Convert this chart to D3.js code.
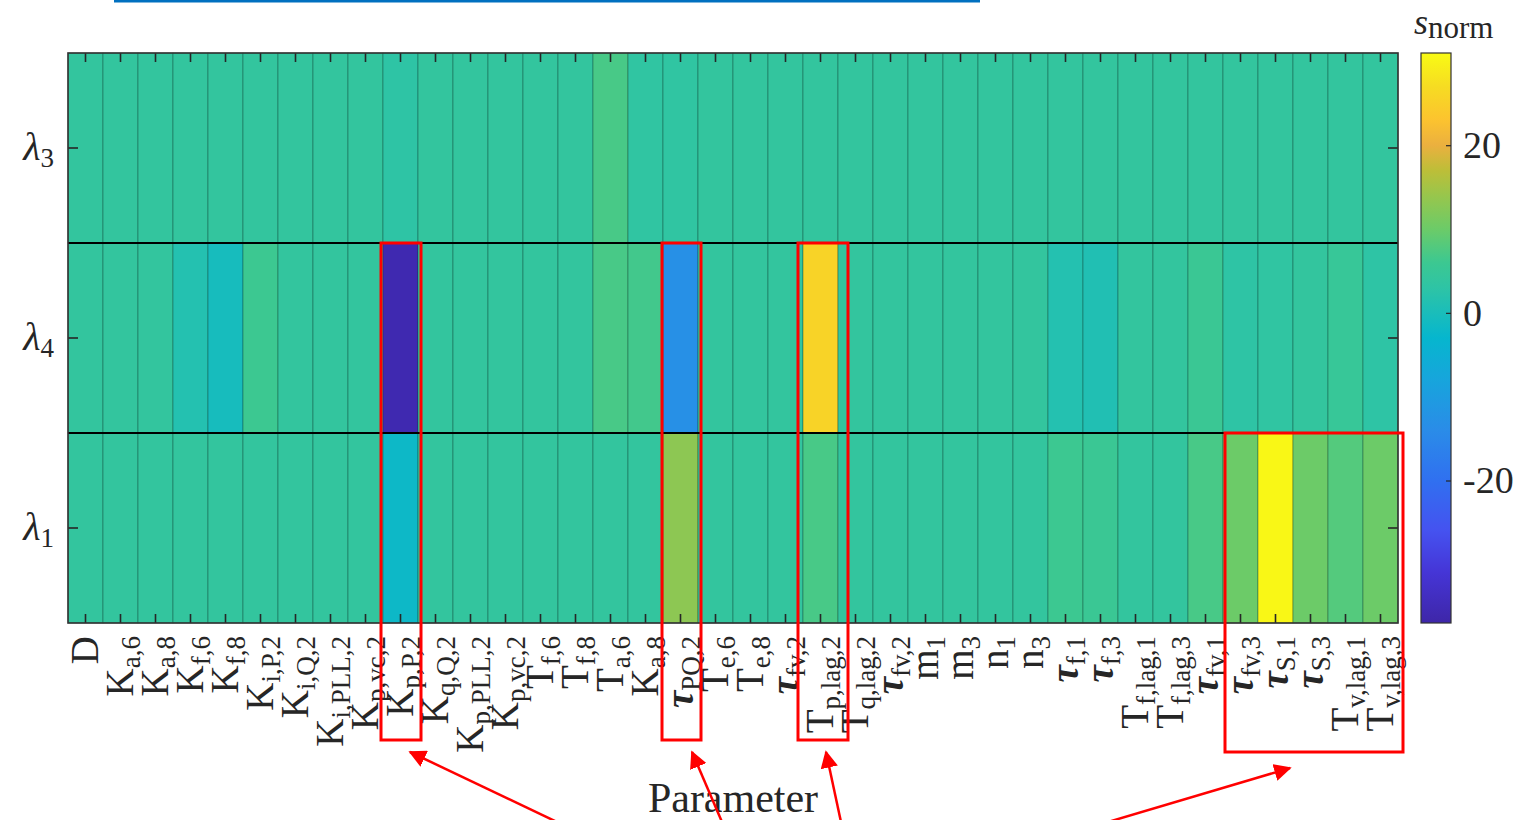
<!DOCTYPE html>
<html>
<head>
  <meta charset="utf-8">
  <title>Sensitivity heatmap</title>
  <script src="https://d3js.org/d3.v7.min.js"></script>
</head>
<body style="margin:0px; overflow:hidden; background:#fff;">
  <svg id="chart" width="1523" height="820"></svg>

  <script>
    // Parameters (main symbol + subscript)
    const paramMain = ["D","K","K","K","K","K","K","K","K","K","K","K","K","T","T","T","K","τ","T","T",
                       "τ","T","T","τ","m","m","n","n","τ","τ","T","T","τ","τ","τ","τ","T","T"];
    const paramSub  = ["","a,6","a,8","f,6","f,8","i,P,2","i,Q,2","i,PLL,2","p,vc,2","p,P,2","q,Q,2","p,PLL,2","p,vc,2",
                       "f,6","f,8","a,6","a,8","PQ,2","e,6","e,8","fv,2","p,lag,2","q,lag,2","fv,2","1","3","1","3",
                       "f,1","f,3","f,lag,1","f,lag,3","fv,1","fv,3","S,1","S,3","v,lag,1","v,lag,3"];

    // Eigenvalues (rows, top to bottom)
    const rowSub = ["3", "4", "1"];

    // Normalized sensitivity per eigenvalue
    const lambda3 = [4,4,4,4,4,4,4,4,4,3,4,4,4,4,4,7,3.5,3.5,4,4,4,4,4,4,4,4,4,4,4,4,4,4,4,4,4,4,4,4];
    const lambda4 = [4,4,4,1.5,-0.5,6,4,4,4,-36,4,4,4,4,4,7,6.5,-13,4,4,4,25.5,4,4,4,4,4,4,1.5,1,4,4,5.5,3,3.5,4,5,3];
    const lambda1 = [4,4,4,4,4,4,4,4,4,-2,4,4,4,4,4,4,4,13,4,4,4,7,4,4,4,4,4,4,6,5.5,4,4,7,10,30.5,10,8,10];

    const cbTicks = [-20, 0, 20];

    // parula-like colormap stops
    const cmapVals = [-37,-31,-26,-20,-14,-8,-3,0,3,6,10,14,17,20,23,27,31];
    const cmapCols = ["#3E26A8","#4535D6","#4552F0","#3070F0","#2A8CE8","#17A5DC","#06B6CE","#1ABDBA","#2EC4A5",
                      "#3CC891","#6CCB68","#98C64C","#BDBE38","#EBB03F","#FCC32F","#F6DC22","#F9FB14"];

    const rows = [lambda3, lambda4, lambda1];
    const cells = [];
    rows.forEach((r, ri) => r.forEach((v, ci) => cells.push({ r: ri, c: ci, v: v })));

    const svg = d3.select("#chart");
    const serif = "'Liberation Serif', 'DejaVu Serif', serif";

    const pLeft = 68, pRight = 1398, pTop = 53, pBottom = 623;

    const x = d3.scaleBand().domain(d3.range(paramMain.length)).range([pLeft, pRight]);
    const y = d3.scaleBand().domain(d3.range(rowSub.length)).range([pTop, pBottom]);
    const color = d3.scaleLinear().domain(cmapVals).range(cmapCols).clamp(true);

    const defs = svg.append("defs");

    // top blue rule
    svg.append("line")
      .attr("x1", 114).attr("x2", 980).attr("y1", 1).attr("y2", 1)
      .attr("stroke", "#0070C0").attr("stroke-width", 3);

    // Cells
    svg.append("g")
      .selectAll("rect")
      .data(cells).enter()
      .append("rect")
      .attr("x", d => x(d.c))
      .attr("y", d => y(d.r))
      .attr("width", x.bandwidth())
      .attr("height", y.bandwidth())
      .attr("fill", d => color(d.v))
      .attr("stroke", "rgba(10,60,45,0.45)")
      .attr("stroke-width", 0.8);

    // Row separators
    svg.append("g")
      .selectAll("line")
      .data(d3.range(1, rowSub.length)).enter()
      .append("line")
      .attr("x1", pLeft).attr("x2", pRight)
      .attr("y1", d => y(d)).attr("y2", d => y(d))
      .attr("stroke", "#000").attr("stroke-width", 2.2);

    // Ticks (inward)
    const tickStyle = g => {
      g.select(".domain").remove();
      g.selectAll(".tick line").attr("stroke", "#262626").attr("stroke-width", 1.6);
      g.selectAll(".tick text").remove();
    };
    svg.append("g").attr("transform", `translate(0,${pBottom})`)
      .call(d3.axisBottom(x).tickSize(-9).tickFormat("")).call(tickStyle);
    svg.append("g").attr("transform", `translate(0,${pTop})`)
      .call(d3.axisTop(x).tickSize(-9).tickFormat("")).call(tickStyle);
    svg.append("g").attr("transform", `translate(${pLeft},0)`)
      .call(d3.axisLeft(y).tickSize(-10).tickFormat("")).call(tickStyle);
    svg.append("g").attr("transform", `translate(${pRight},0)`)
      .call(d3.axisRight(y).tickSize(-10).tickFormat("")).call(tickStyle);

    // Frame
    svg.append("rect")
      .attr("x", pLeft).attr("y", pTop)
      .attr("width", pRight - pLeft).attr("height", pBottom - pTop)
      .attr("fill", "none").attr("stroke", "#333").attr("stroke-width", 1.6);

    // X tick labels (rotated, with subscripts)
    const xl = svg.append("g")
      .selectAll("text")
      .data(paramMain).enter()
      .append("text")
      .attr("transform", (d, i) => `translate(${x(i) + x.bandwidth() / 2 + 12},${pBottom + 13}) rotate(-90)`)
      .attr("text-anchor", "end")
      .attr("font-family", serif)
      .attr("fill", "#262626");
    xl.append("tspan")
      .attr("font-size", 39)
      .attr("font-style", d => d === "τ" ? "italic" : null)
      .attr("font-weight", d => d === "τ" ? "bold" : null)
      .text(d => d);
    xl.append("tspan")
      .attr("font-size", 27)
      .attr("dy", 7)
      .text((d, i) => paramSub[i]);

    // Y tick labels
    const yl = svg.append("g")
      .selectAll("text")
      .data(rowSub).enter()
      .append("text")
      .attr("x", 54)
      .attr("y", (d, i) => y(i) + y.bandwidth() / 2 + 12)
      .attr("text-anchor", "end")
      .attr("font-family", serif)
      .attr("fill", "#262626");
    yl.append("tspan").attr("font-size", 40).attr("font-style", "italic").text("λ");
    yl.append("tspan").attr("font-size", 27).attr("dy", 7).text(d => d);

    // X axis title
    svg.append("text")
      .attr("x", 733).attr("y", 812)
      .attr("text-anchor", "middle")
      .attr("font-family", serif)
      .attr("font-size", 42)
      .attr("fill", "#262626")
      .text("Parameter");

    // Colorbar
    const cbX = 1421, cbW = 30;
    const cy = d3.scaleLinear().domain([cmapVals[0], cmapVals[cmapVals.length - 1]]).range([pBottom, pTop]);
    const grad = defs.append("linearGradient")
      .attr("id", "cbar").attr("x1", 0).attr("x2", 0).attr("y1", 1).attr("y2", 0);
    grad.selectAll("stop")
      .data(cmapVals).enter()
      .append("stop")
      .attr("offset", d => (d - cmapVals[0]) / (cmapVals[cmapVals.length - 1] - cmapVals[0]))
      .attr("stop-color", d => color(d));
    svg.append("rect")
      .attr("x", cbX).attr("y", pTop)
      .attr("width", cbW).attr("height", pBottom - pTop)
      .attr("fill", "url(#cbar)")
      .attr("stroke", "#333").attr("stroke-width", 1.2);

    const cbAxis = svg.append("g").attr("transform", `translate(${cbX + cbW},0)`)
      .call(d3.axisRight(cy).tickValues(cbTicks).tickSize(-5).tickPadding(12).tickFormat(d => String(d)));
    cbAxis.select(".domain").remove();
    cbAxis.selectAll(".tick line").attr("stroke", "#262626").attr("stroke-width", 1.2);
    cbAxis.selectAll(".tick text")
      .attr("font-family", serif).attr("font-size", 38).attr("fill", "#262626");

    const cbt = svg.append("text")
      .attr("x", 1414).attr("y", 34)
      .attr("font-family", serif)
      .attr("fill", "#262626");
    cbt.append("tspan").attr("font-size", 36).attr("font-style", "italic").text("s");
    cbt.append("tspan").attr("font-size", 31).attr("dy", 4).text("norm");

    // Annotation boxes
    const boxes = [
      { c0: 9, c1: 9, padL: 2, padR: 3, r: 1, yb: 740 },
      { c0: 17, c1: 17, padL: 1, padR: 3, r: 1, yb: 740 },
      { c0: 21, c1: 21, padL: 5, padR: 10, r: 1, yb: 740 },
      { c0: 33, c1: 37, padL: -2, padR: 5, r: 2, yb: 752 }
    ];
    svg.append("g")
      .selectAll("rect")
      .data(boxes).enter()
      .append("rect")
      .attr("x", d => x(d.c0) - d.padL)
      .attr("y", d => y(d.r))
      .attr("width", d => x(d.c1) + x.bandwidth() + d.padR - (x(d.c0) - d.padL))
      .attr("height", d => d.yb - y(d.r))
      .attr("fill", "none")
      .attr("stroke", "#FF0000")
      .attr("stroke-width", 3);

    // Arrows
    defs.append("marker")
      .attr("id", "arrow")
      .attr("viewBox", "0 0 10 10")
      .attr("refX", 9).attr("refY", 5)
      .attr("markerWidth", 7).attr("markerHeight", 7)
      .attr("markerUnits", "strokeWidth")
      .attr("orient", "auto")
      .append("path")
      .attr("d", "M0,0 L10,5 L0,10 Z")
      .attr("fill", "#FF0000");

    const arrows = [
      { x1: 557, y1: 822, x2: 410, y2: 752 },
      { x1: 722, y1: 822, x2: 692, y2: 752 },
      { x1: 841, y1: 822, x2: 826, y2: 752 },
      { x1: 1108, y1: 822, x2: 1290, y2: 768 }
    ];
    svg.append("g")
      .selectAll("line")
      .data(arrows).enter()
      .append("line")
      .attr("x1", d => d.x1).attr("y1", d => d.y1)
      .attr("x2", d => d.x2).attr("y2", d => d.y2)
      .attr("stroke", "#FF0000")
      .attr("stroke-width", 2.5)
      .attr("marker-end", "url(#arrow)");
  </script>
</body>
</html>
